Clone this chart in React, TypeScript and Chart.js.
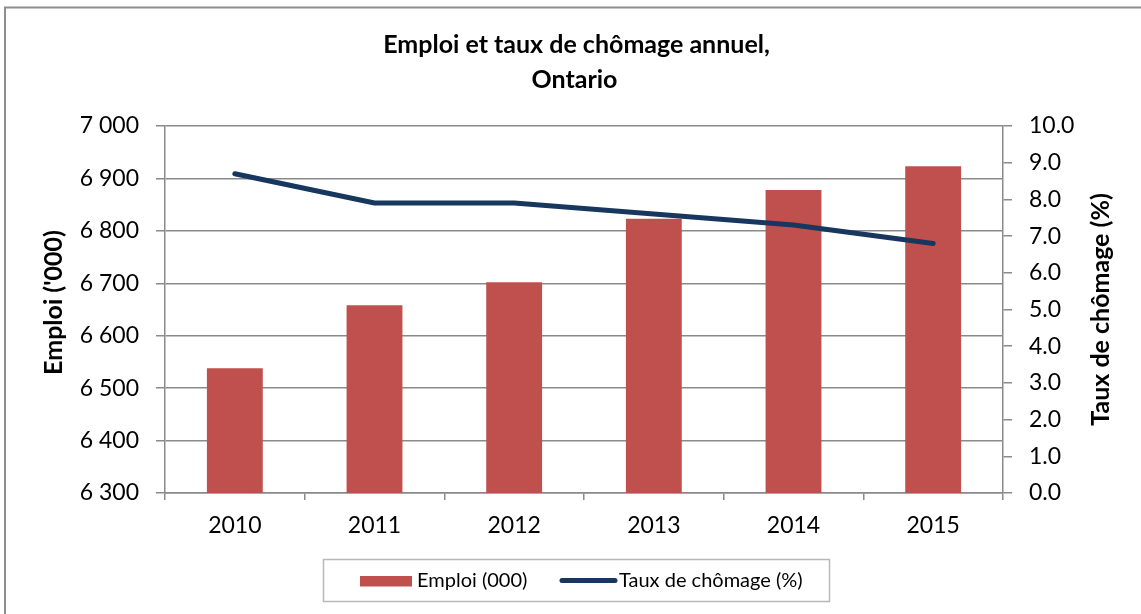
import React, { useEffect, useRef } from "react";
import { Chart, registerables } from "chart.js";

Chart.register(...registerables);

const categories = ["2010", "2011", "2012", "2013", "2014", "2015"];
const emploi = [6538, 6658, 6702, 6823, 6878, 6923];
const taux = [8.7, 7.9, 7.9, 7.6, 7.3, 6.8];
const titleLines = ["Emploi et taux de chômage annuel,", "Ontario"];
const leftAxisTitle = "Emploi ('000)";
const rightAxisTitle = "Taux de chômage (%)";
const emploiLabel = "Emploi (000)";
const tauxLabel = "Taux de chômage (%)";

const BAR_COLOR = "#C0504D";
const LINE_COLOR = "#17375E";
const GRID_COLOR = "#8a8a8a";
const FONT = "Lato, 'Open Sans', sans-serif";

const fmtThousands = (v: number) =>
  `${Math.floor(v / 1000)} ${String(Math.round(v % 1000)).padStart(3, "0")}`;

const decorPlugin = {
  id: "decor",
  afterDraw(chart: any) {
    const ctx = chart.ctx as CanvasRenderingContext2D;
    const area = chart.chartArea;
    ctx.save();
    // outer border (top & left visible)
    ctx.strokeStyle = "#8e8e8e";
    ctx.lineWidth = 2;
    ctx.beginPath();
    ctx.moveTo(5, 700);
    ctx.lineTo(5, 7.5);
    ctx.lineTo(1200, 7.5);
    ctx.stroke();

    // title
    ctx.fillStyle = "#000";
    ctx.textAlign = "center";
    ctx.textBaseline = "alphabetic";
    ctx.font = `bold 25px ${FONT}`;
    ctx.fillText(titleLines[0], 576.5, 53);
    ctx.fillText(titleLines[1], 574.5, 88);

    // axis titles
    const midY = (area.top + area.bottom) / 2;
    ctx.font = `bold 25px ${FONT}`;
    ctx.textBaseline = "middle";
    ctx.save();
    ctx.translate(54, midY - 7);
    ctx.rotate(-Math.PI / 2);
    ctx.fillText(leftAxisTitle, 0, 0);
    ctx.restore();
    ctx.save();
    ctx.translate(1101, midY);
    ctx.rotate(-Math.PI / 2);
    ctx.fillText(rightAxisTitle, 0, 0);
    ctx.restore();

    // legend
    ctx.strokeStyle = "#b8b8b8";
    ctx.lineWidth = 1.5;
    ctx.strokeRect(323.5, 559.5, 506, 42);
    ctx.fillStyle = BAR_COLOR;
    ctx.fillRect(360, 576, 52, 10.5);
    ctx.strokeStyle = LINE_COLOR;
    ctx.lineWidth = 5;
    ctx.lineCap = "round";
    ctx.beginPath();
    ctx.moveTo(562, 580.5);
    ctx.lineTo(615, 580.5);
    ctx.stroke();
    ctx.fillStyle = "#000";
    ctx.font = `20px ${FONT}`;
    ctx.textAlign = "left";
    ctx.textBaseline = "alphabetic";
    ctx.fillText(emploiLabel, 417, 587);
    ctx.fillText(tauxLabel, 619, 587);
    ctx.restore();
  },
};

function App() {
  const canvasRef = useRef<HTMLCanvasElement | null>(null);

  useEffect(() => {
    let chart: Chart | null = null;
    let cancelled = false;
    const make = () => {
      if (cancelled || !canvasRef.current) return;
      chart = new Chart(canvasRef.current, {
        type: "bar",
        data: {
          labels: categories,
          datasets: [
            {
              type: "bar",
              label: emploiLabel,
              data: emploi,
              backgroundColor: BAR_COLOR,
              yAxisID: "y",
              barPercentage: 0.4,
              categoryPercentage: 1,
              order: 2,
            },
            {
              type: "line",
              label: tauxLabel,
              data: taux,
              borderColor: LINE_COLOR,
              backgroundColor: LINE_COLOR,
              borderWidth: 5,
              pointRadius: 0,
              tension: 0,
              borderCapStyle: "round",
              borderJoinStyle: "round",
              yAxisID: "y1",
              order: 1,
            } as any,
          ],
        },
        options: {
          responsive: false,
          animation: false,
          devicePixelRatio: 1,
          layout: { padding: { top: 126, bottom: 61, left: 0, right: 0 } },
          plugins: {
            legend: { display: false },
            title: { display: false },
            tooltip: { enabled: false },
          },
          scales: {
            x: {
              type: "category",
              offset: true,
              grid: {
                offset: true,
                drawOnChartArea: false,
                tickLength: 7,
                color: GRID_COLOR,
                lineWidth: 1.5,
              },
              border: { color: GRID_COLOR, width: 1.5 },
              ticks: {
                color: "#000",
                font: { family: FONT, size: 23 },
                padding: 12,
                maxRotation: 0,
              },
              afterFit: (s: any) => {
                s.height = 60;
              },
            },
            y: {
              type: "linear",
              position: "left",
              min: 6300,
              max: 7000,
              ticks: {
                stepSize: 100,
                color: "#000",
                font: { family: FONT, size: 23 },
                padding: 17,
                callback: (v: any) => fmtThousands(Number(v)),
              },
              grid: { color: GRID_COLOR, tickLength: 9, lineWidth: 1.5 },
              border: { color: GRID_COLOR, width: 1.5 },
              afterFit: (s: any) => {
                s.width = 165;
              },
            },
            y1: {
              type: "linear",
              position: "right",
              min: 0,
              max: 10,
              ticks: {
                stepSize: 1,
                color: "#000",
                font: { family: FONT, size: 23 },
                padding: 17,
                callback: (v: any) => Number(v).toFixed(1),
              },
              grid: {
                drawOnChartArea: false,
                color: GRID_COLOR,
                tickLength: 9,
                lineWidth: 1.5,
              },
              border: { color: GRID_COLOR, width: 1.5 },
              afterFit: (s: any) => {
                s.width = 138;
              },
            },
          },
        },
        plugins: [decorPlugin],
      });
    };
    const fontsReady =
      (document as any).fonts && (document as any).fonts.load
        ? Promise.all([
            (document as any).fonts.load(`23px Lato`),
            (document as any).fonts.load(`bold 23px Lato`),
          ]).catch(() => null)
        : Promise.resolve(null);
    fontsReady.then(make);
    return () => {
      cancelled = true;
      if (chart) chart.destroy();
    };
  }, []);

  return (
    <div
      style={{
        position: "fixed",
        left: 0,
        top: 0,
        width: 1141,
        height: 614,
        background: "#fff",
      }}
    >
      <canvas ref={canvasRef} width={1141} height={614} />
    </div>
  );
}

export default App;
